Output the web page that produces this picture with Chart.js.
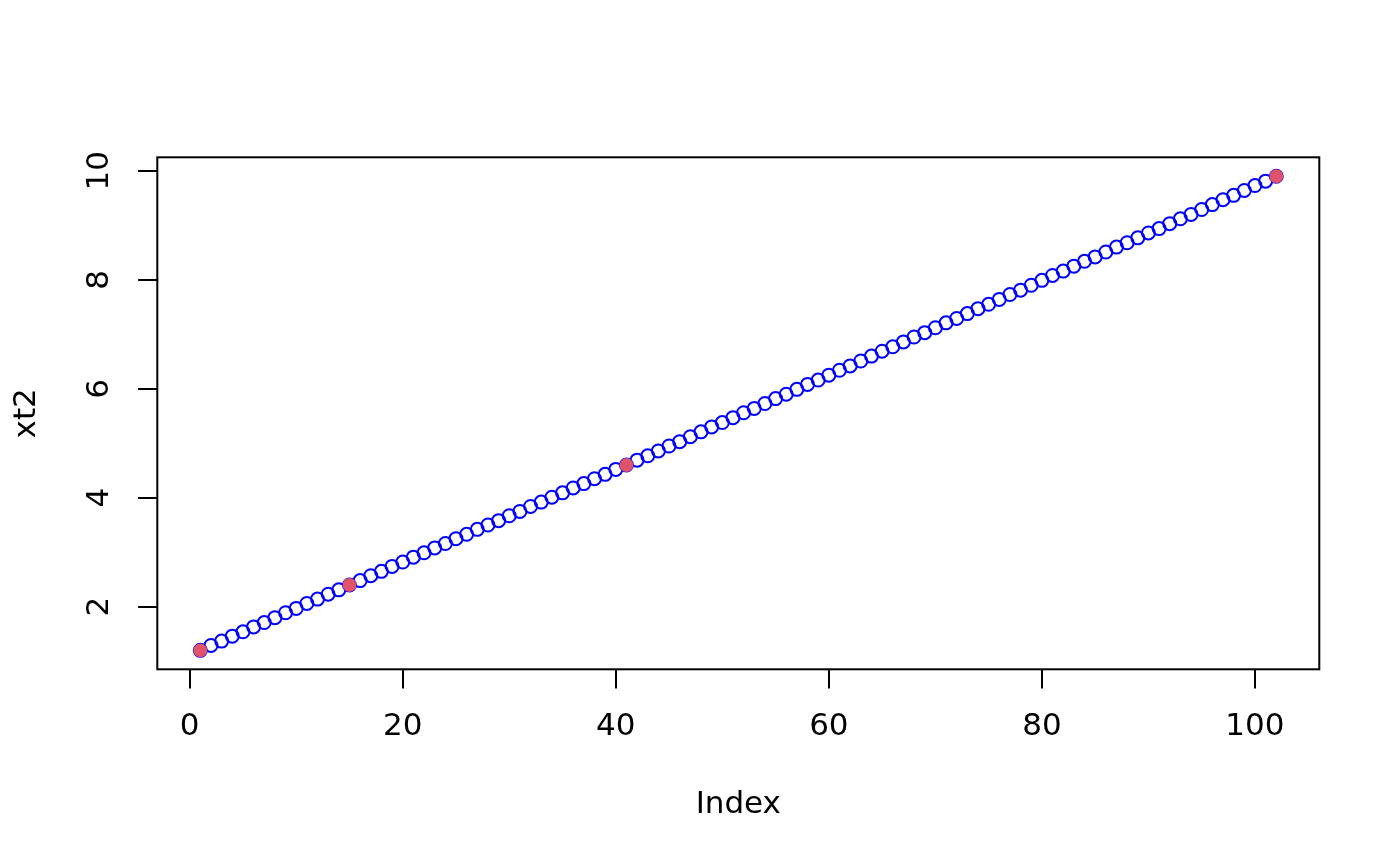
<!DOCTYPE html>
<html>
<head>
<meta charset="utf-8">
<script src="https://cdn.jsdelivr.net/npm/chart.js@4/dist/chart.umd.min.js"></script>
<style>
  html, body { margin: 0; padding: 0; background: #fff; }
  #wrap { width: 1400px; height: 866px; position: relative; }
</style>
</head>
<body>
<div id="wrap"><canvas id="c" width="1400" height="866"></canvas></div>
<script>
// ---- data ----
const xt2 = [
  1.20, 1.29, 1.37, 1.46, 1.54, 1.63, 1.71, 1.80, 1.89, 1.97,
  2.06, 2.14, 2.23, 2.31, 2.40, 2.48, 2.57, 2.65, 2.74, 2.82,
  2.91, 2.99, 3.08, 3.16, 3.25, 3.33, 3.42, 3.50, 3.58, 3.67,
  3.75, 3.84, 3.92, 4.01, 4.09, 4.18, 4.26, 4.35, 4.43, 4.52,
  4.60, 4.69, 4.77, 4.86, 4.95, 5.03, 5.12, 5.21, 5.30, 5.38,
  5.47, 5.56, 5.64, 5.73, 5.82, 5.90, 5.99, 6.08, 6.16, 6.25,
  6.34, 6.42, 6.51, 6.60, 6.69, 6.77, 6.86, 6.95, 7.03, 7.12,
  7.21, 7.29, 7.38, 7.47, 7.55, 7.64, 7.73, 7.81, 7.90, 7.99,
  8.08, 8.16, 8.25, 8.34, 8.42, 8.51, 8.60, 8.68, 8.77, 8.86,
  8.94, 9.03, 9.12, 9.20, 9.29, 9.38, 9.47, 9.55, 9.64, 9.73,
  9.81, 9.90
];
const highlightIndex = [1, 15, 41, 102];
const xTicks = [0, 20, 40, 60, 80, 100];
const yTicks = [2, 4, 6, 8, 10];
const xLabel = 'Index';
const yLabel = 'xt2';

// ---- build library data ----
const allPoints = xt2.map((v, i) => ({ x: i + 1, y: v }));
const redPoints = highlightIndex.map(i => ({ x: i, y: xt2[i - 1] }));

// R-style 4% axis extension
const xMinD = 1, xMaxD = xt2.length;
const yMinD = Math.min(...xt2), yMaxD = Math.max(...xt2);
const xPad = (xMaxD - xMinD) * 0.04, yPad = (yMaxD - yMinD) * 0.04;

const FONT = 'DejaVu Sans';
const FS = 31;

const boxPlugin = {
  id: 'rbox',
  afterDraw(chart) {
    const { ctx, chartArea: a } = chart;
    ctx.save();
    ctx.strokeStyle = '#000';
    ctx.lineWidth = 2;
    ctx.strokeRect(a.left, a.top, a.right - a.left, a.bottom - a.top);
    // rotated y tick labels (R style)
    const ys = chart.scales.y;
    ctx.fillStyle = '#000';
    ctx.font = FS + 'px "' + FONT + '"';
    ctx.textAlign = 'center';
    ctx.textBaseline = 'middle';
    ys.ticks.forEach(t => {
      const py = ys.getPixelForValue(t.value);
      ctx.save();
      ctx.translate(100, py);
      ctx.rotate(-Math.PI / 2);
      ctx.fillText(String(t.value), 0, 0);
      ctx.restore();
    });
    ctx.restore();
  }
};

new Chart(document.getElementById('c'), {
  type: 'scatter',
  data: {
    datasets: [
      {
        data: redPoints,
        pointStyle: 'circle',
        pointRadius: 6.2,
        pointBorderWidth: 1.5,
        pointBackgroundColor: '#DF536B',
        pointBorderColor: '#DF536B',
        showLine: false
      },
      {
        data: allPoints,
        pointStyle: 'circle',
        pointRadius: 6.5,
        pointBorderWidth: 2,
        pointBackgroundColor: 'rgba(0,0,0,0)',
        pointBorderColor: '#0000FF',
        showLine: false
      }
    ]
  },
  options: {
    responsive: false,
    animation: false,
    events: [],
    devicePixelRatio: 1,
    layout: { padding: { top: 157.3, right: 80.7, left: 0, bottom: 0 } },
    plugins: { legend: { display: false }, tooltip: { enabled: false } },
    scales: {
      x: {
        type: 'linear',
        min: xMinD - xPad,
        max: xMaxD + xPad,
        afterBuildTicks: s => { s.ticks = xTicks.map(v => ({ value: v })); },
        afterFit: s => { s.height = 866 - 669.3; },
        border: { display: false },
        grid: { drawOnChartArea: false, drawTicks: true, tickLength: 19.2, color: '#000', lineWidth: 2 },
        ticks: { color: '#000', font: { family: FONT, size: FS, lineHeight: 1 }, padding: 23, maxRotation: 0, autoSkip: false },
        title: { display: true, text: xLabel, color: '#000', font: { family: FONT, size: FS, lineHeight: 1.2 }, padding: { top: 0, bottom: 42 } }
      },
      y: {
        type: 'linear',
        min: yMinD - yPad,
        max: yMaxD + yPad,
        afterBuildTicks: s => { s.ticks = yTicks.map(v => ({ value: v })); },
        afterFit: s => { s.width = 157.3; },
        border: { display: false },
        grid: { drawOnChartArea: false, drawTicks: true, tickLength: 19.2, color: '#000', lineWidth: 2 },
        ticks: { display: false },
        title: { display: true, text: yLabel, color: '#000', font: { family: FONT, size: FS, lineHeight: 1.2 }, padding: { top: 8, bottom: 0 } }
      }
    }
  },
  plugins: [boxPlugin]
});
</script>
</body>
</html>
